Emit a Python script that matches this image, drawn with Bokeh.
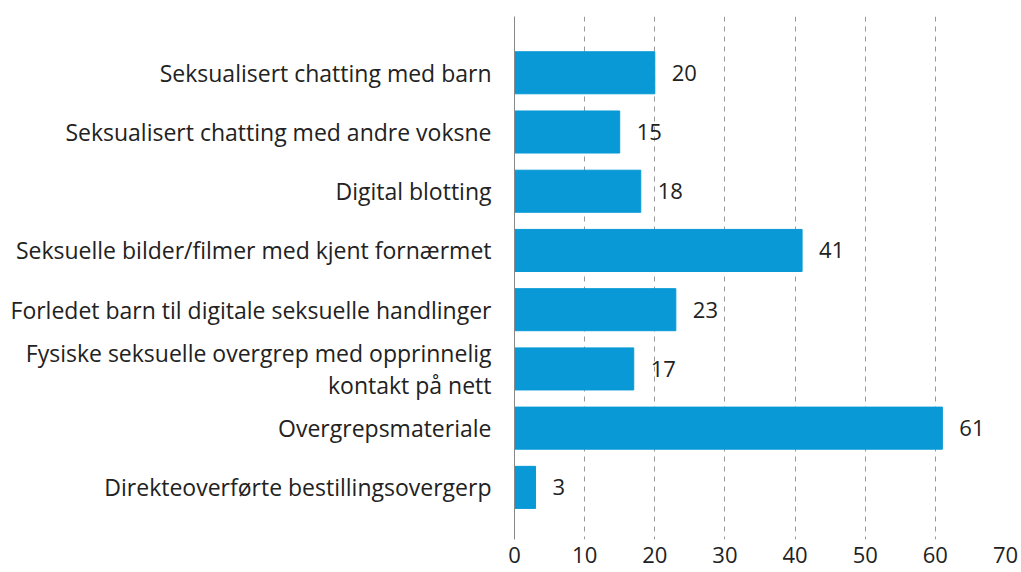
from bokeh.plotting import figure
from bokeh.models import Range1d, FixedTicker, ColumnDataSource, LabelSet
from bokeh.embed import file_html
from bokeh.resources import INLINE
from bokeh.core.properties import value

categories = [
    "Seksualisert chatting med barn",
    "Seksualisert chatting med andre voksne",
    "Digital blotting",
    "Seksuelle bilder/filmer med kjent fornærmet",
    "Forledet barn til digitale seksuelle handlinger",
    "Fysiske seksuelle overgrep med opprinnelig\nkontakt på nett",
    "Overgrepsmateriale",
    "Direkteoverførte bestillingsovergerp",
]
values = [20, 15, 18, 41, 23, 17, 61, 3]
x_ticks = [0, 10, 20, 30, 40, 50, 60, 70]

FONT = "Open Sans"
pos = list(range(len(categories)))
src = ColumnDataSource(dict(y=pos, v=values, lab=[str(v) for v in values]))

p = figure(width=1021, height=572, output_backend="svg", toolbar_location=None,
           x_range=Range1d(0, 70), y_range=Range1d(7.88, -0.95),
           min_border_left=514, min_border_right=16, min_border_top=16, min_border_bottom=33)
p.outline_line_color = None
p.background_fill_color = "white"
p.border_fill_color = "white"

p.hbar(y="y", right="v", left=0, height=0.71, source=src, color="#0899d6")

labels = LabelSet(x="v", y="y", text="lab", source=src, x_offset=17, y_offset=0,
                  text_baseline="middle", text_align="left", text_font_size="22px",
                  text_color="#222222", text_font=value(FONT))
p.add_layout(labels)

# x axis
p.xaxis.ticker = FixedTicker(ticks=x_ticks)
p.xaxis.axis_line_color = None
p.xaxis.major_tick_line_color = None
p.xaxis.minor_tick_line_color = None
p.xaxis.major_label_text_font_size = "22px"
p.xaxis.major_label_text_font = FONT
p.xaxis.major_label_text_color = "#222222"
p.xaxis.major_label_standoff = 1

# y axis
p.yaxis.ticker = FixedTicker(ticks=pos)
p.yaxis.major_label_overrides = {i: c for i, c in enumerate(categories)}
p.yaxis.axis_line_color = "#888888"
p.yaxis.axis_line_width = 1
p.yaxis.major_tick_line_color = None
p.yaxis.minor_tick_line_color = None
p.yaxis.major_label_text_font_size = "23px"
p.yaxis.major_label_text_font = FONT
p.yaxis.major_label_text_color = "#222222"
p.yaxis.major_label_text_line_height = 1.0
p.yaxis.major_label_standoff = 17

p.ygrid.grid_line_color = None
p.xgrid.ticker = FixedTicker(ticks=x_ticks[1:])
p.xgrid.grid_line_color = "#999999"
p.xgrid.grid_line_dash = "5 5"
p.xgrid.grid_line_width = 1

open("out.html", "w").write(file_html(p, INLINE))
